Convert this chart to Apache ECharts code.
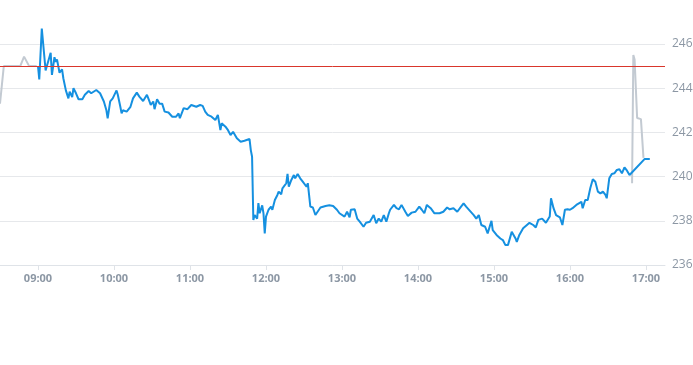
<!DOCTYPE html>
<html>
<head>
<meta charset="utf-8">
<script src="https://cdn.jsdelivr.net/npm/echarts@6/dist/echarts.min.js"></script>
<style>html,body{margin:0;padding:0;background:#fff}#c{width:693px;height:365px}</style>
</head>
<body>
<div id="c"></div>
<script>
// Regular session (blue)
var sessionTimes = ["9:00","9:01","9:03","9:06","9:10","9:11","9:13","9:14","9:15","9:16","9:17","9:19","9:20","9:22","9:24","9:25","9:27","9:28","9:30","9:32","9:35","9:37","9:40","9:42","9:46","9:49","9:52","9:54","9:55","9:57","9:59",
"10:02","10:03","10:05","10:06","10:07","10:10","10:13","10:15","10:18","10:20","10:23","10:26","10:28","10:29","10:31","10:32","10:34","10:36","10:38","10:40","10:43","10:46","10:49","10:51","10:52","10:55","10:58",
"11:01","11:05","11:08","11:10","11:12","11:14","11:17","11:20","11:22","11:24","11:25","11:28","11:30","11:32","11:34","11:37","11:40","11:43","11:47","11:48","11:49","11:50","11:51","11:53","11:54","11:55","11:57","11:58","11:59",
"12:00","12:02","12:04","12:05","12:07","12:09","12:10","12:12","12:13","12:14","12:16","12:17","12:18","12:20","12:22","12:23","12:25","12:27","12:29","12:32","12:33","12:35","12:37","12:39","12:40","12:43","12:47","12:48","12:50","12:53","12:56","12:58",
"13:02","13:04","13:06","13:07","13:10","13:12","13:14","13:17","13:19","13:22","13:25","13:26","13:27","13:29","13:31","13:33","13:35","13:37","13:38","13:41","13:43","13:45","13:47","13:50","13:52","13:55","13:58",
"14:01","14:03","14:05","14:07","14:10","14:13","14:17","14:20","14:23","14:25","14:28","14:31","14:34","14:36","14:38","14:41","14:44","14:46","14:48","14:50","14:53","14:55","14:58","14:59",
"15:02","15:05","15:07","15:09","15:11","15:14","15:17","15:18","15:20","15:23","15:26","15:28","15:31","15:33","15:35","15:38","15:39","15:41","15:44","15:45","15:47","15:49","15:52","15:54","15:56","15:58",
"16:00","16:02","16:05","16:07","16:09","16:10","16:12","16:14","16:16","16:18","16:20","16:22","16:24","16:26","16:28","16:29","16:31","16:33","16:35","16:37","16:39","16:41","16:43","16:45","16:47","16:48","16:59","17:03"];
var sessionPrices = [245.0,244.4,246.7,244.8,245.6,244.6,245.4,245.2,245.3,245.0,244.7,244.85,244.45,243.9,243.54,243.84,243.6,244.0,243.77,243.5,243.5,243.7,243.87,243.77,243.92,243.77,243.4,243.0,242.64,243.4,243.54,
243.9,243.7,243.16,242.86,243.0,242.94,243.16,243.54,243.8,243.62,243.42,243.7,243.4,243.24,243.4,243.05,243.5,243.3,243.3,242.94,242.9,242.71,242.71,242.86,242.64,243.1,243.05,
243.24,243.16,243.24,243.2,242.94,242.79,242.71,242.56,242.79,242.1,242.41,242.26,242.1,241.88,242.03,241.73,241.58,241.62,241.7,241.2,240.9,238.04,238.26,238.1,238.8,238.34,238.7,238.34,237.43,
238.19,238.5,238.64,238.5,238.94,239.17,239.32,239.2,239.47,239.4,239.7,240.12,239.54,239.85,240.07,239.92,240.12,239.92,239.77,239.54,239.7,238.64,238.6,238.26,238.34,238.6,238.67,238.6,238.7,238.67,238.5,238.34,
238.19,238.41,238.16,238.5,238.52,238.1,237.96,237.73,237.91,237.96,238.26,238.19,237.89,238.1,237.96,238.26,237.96,238.34,238.5,238.72,238.57,238.52,238.72,238.41,238.22,238.37,238.41,
238.64,238.5,238.34,238.72,238.57,238.34,238.34,238.41,238.6,238.52,238.57,238.41,238.64,238.79,238.64,238.45,238.26,238.1,238.26,237.81,237.73,237.43,238.0,237.58,
237.36,237.2,237.13,236.9,236.9,237.5,237.2,237.05,237.36,237.66,237.81,237.91,237.81,237.7,238.04,238.1,238.04,237.91,238.19,239.02,238.57,238.26,238.16,237.81,238.5,238.52,
238.5,238.57,238.72,238.79,238.86,238.57,238.94,238.94,239.47,239.88,239.77,239.32,239.24,239.32,239.17,239.02,239.92,240.12,240.15,240.3,240.33,240.15,240.42,240.27,240.07,240.03,240.8,240.8];
// Pre-market (gray)
var preTimes = ["8:30","8:33","8:46","8:49","8:53","8:59"];
var prePrices = [243.3,245.0,245.0,245.43,245.0,245.0];
// After-hours (gray)
var postTimes = ["16:49","16:50","16:51","16:53","16:56","16:58"];
var postPrices = [239.7,245.5,245.3,242.65,242.6,240.85];
var previousClose = 245;
var xTickLabels = ["09:00","10:00","11:00","12:00","13:00","14:00","15:00","16:00","17:00"];

function toMin(s){var p=s.split(":");return (+p[0])*60+(+p[1]);}
function pairs(t,v){return t.map(function(s,i){return [toMin(s),v[i]];});}
var tickVals = xTickLabels.map(toMin);
function fmt(m){var h=Math.floor(m/60),mm=m%60;return (h<10?"0":"")+h+":"+(mm<10?"0":"")+mm;}

var chart = echarts.init(document.getElementById('c'), null, {renderer:'canvas'});
chart.setOption({
  animation:false,
  backgroundColor:'#fff',
  grid:{left:0,right:28,top:44,bottom:100,containLabel:false,outerBoundsMode:'none'},
  xAxis:{
    type:'value', min:510, max:1035,
    axisLine:{show:true,lineStyle:{color:'#dfe3e8',width:1}},
    axisTick:{show:true,customValues:tickVals,length:5,lineStyle:{color:'#dfe3e8'}},
    axisLabel:{customValues:tickVals,formatter:function(v){return fmt(v);},color:'#8c97a4',fontSize:11,fontWeight:'bold',fontFamily:'Open Sans, sans-serif',margin:8},
    splitLine:{show:false}
  },
  yAxis:{
    type:'value', position:'right', min:236, max:246, interval:2,
    axisLine:{show:false}, axisTick:{show:false},
    axisLabel:{color:'#8c97a4',fontSize:12,fontFamily:'Open Sans, sans-serif',margin:7},
    splitLine:{show:true,lineStyle:{color:'#e6e8eb',width:1}}
  },
  series:[
    {type:'line',data:pairs(preTimes,prePrices),showSymbol:false,clip:false,lineStyle:{color:'#c3cad2',width:2},itemStyle:{color:'#c3cad2'},z:2},
    {type:'line',data:pairs(postTimes,postPrices),showSymbol:false,clip:false,lineStyle:{color:'#c3cad2',width:2},itemStyle:{color:'#c3cad2'},z:2},
    {type:'line',data:pairs(sessionTimes,sessionPrices),showSymbol:false,clip:false,lineStyle:{color:'#1590e0',width:2},itemStyle:{color:'#1590e0'},z:3,
     markLine:{silent:true,symbol:'none',label:{show:false},lineStyle:{color:'#d9362c',width:1,type:'solid'},data:[{yAxis:previousClose}]}}
  ]
});
</script>
</body>
</html>
